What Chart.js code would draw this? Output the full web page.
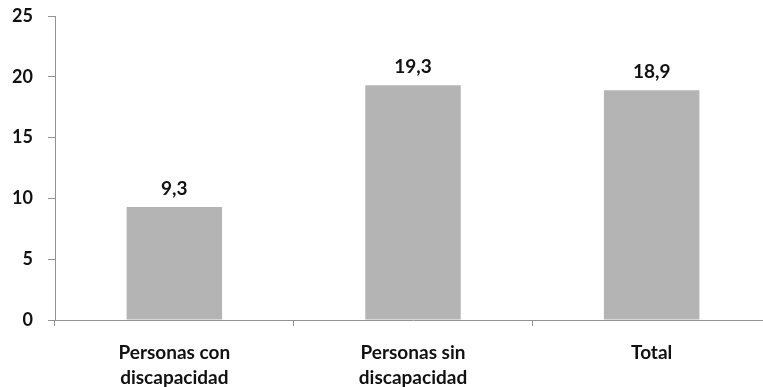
<!DOCTYPE html>
<html>
<head>
<meta charset="utf-8">
<script src="https://cdn.jsdelivr.net/npm/chart.js@4"></script>
<style>
  html, body { margin: 0; padding: 0; background: #fff; overflow: hidden; }
  #wrap { width: 771px; height: 387px; }
</style>
</head>
<body>
<div id="wrap"><canvas id="c"></canvas></div>
<script>
const categories = [["Personas con", "discapacidad"], ["Personas sin", "discapacidad"], "Total"];
const values = [9.3, 19.3, 18.9];
const valueLabels = ["9,3", "19,3", "18,9"];
const yTicks = [0, 5, 10, 15, 20, 25];

const FONT = "Lato, 'Open Sans', sans-serif";
const AXIS = "#939393";

// Draws the value text above each bar
const barValues = {
  id: "barValues",
  afterDatasetsDraw(chart) {
    const ctx = chart.ctx;
    const meta = chart.getDatasetMeta(0);
    ctx.save();
    ctx.font = "bold 19px " + FONT;
    ctx.fillStyle = "#111";
    ctx.textAlign = "center";
    ctx.textBaseline = "alphabetic";
    meta.data.forEach((bar, i) => {
      ctx.fillText(valueLabels[i], bar.x, bar.y - 12);
    });
    ctx.restore();
  }
};

new Chart(document.getElementById("c"), {
  type: "bar",
  data: {
    labels: categories,
    datasets: [{
      data: values,
      backgroundColor: "#b4b4b4",
      borderWidth: 0,
      categoryPercentage: 1,
      barPercentage: 0.4
    }]
  },
  options: {
    responsive: true,
    maintainAspectRatio: false,
    animation: false,
    layout: { padding: 0 },
    plugins: { legend: { display: false }, tooltip: { enabled: false } },
    scales: {
      x: {
        grid: {
          offset: true,
          drawOnChartArea: false,
          color: AXIS,
          tickLength: 6
        },
        border: { color: AXIS, width: 1 },
        ticks: {
          color: "#111",
          font: { family: FONT, size: 19, weight: "bold", lineHeight: 1.32 },
          padding: 14,
          maxRotation: 0
        },
        afterFit(scale) { scale.height = 67; scale.paddingLeft = 0; scale.paddingRight = 0; }
      },
      y: {
        min: 0,
        max: 25,
        afterBuildTicks(scale) { scale.ticks = yTicks.map(v => ({ value: v })); },
        grid: {
          drawOnChartArea: false,
          color: AXIS,
          tickLength: 7
        },
        border: { color: AXIS, width: 1 },
        ticks: {
          color: "#111",
          font: { family: FONT, size: 18, weight: "bold" },
          padding: 15
        },
        afterFit(scale) { scale.width = 55; scale.paddingTop = 16; scale.paddingBottom = 0; }
      }
    }
  },
  plugins: [barValues]
});
</script>
</body>
</html>
